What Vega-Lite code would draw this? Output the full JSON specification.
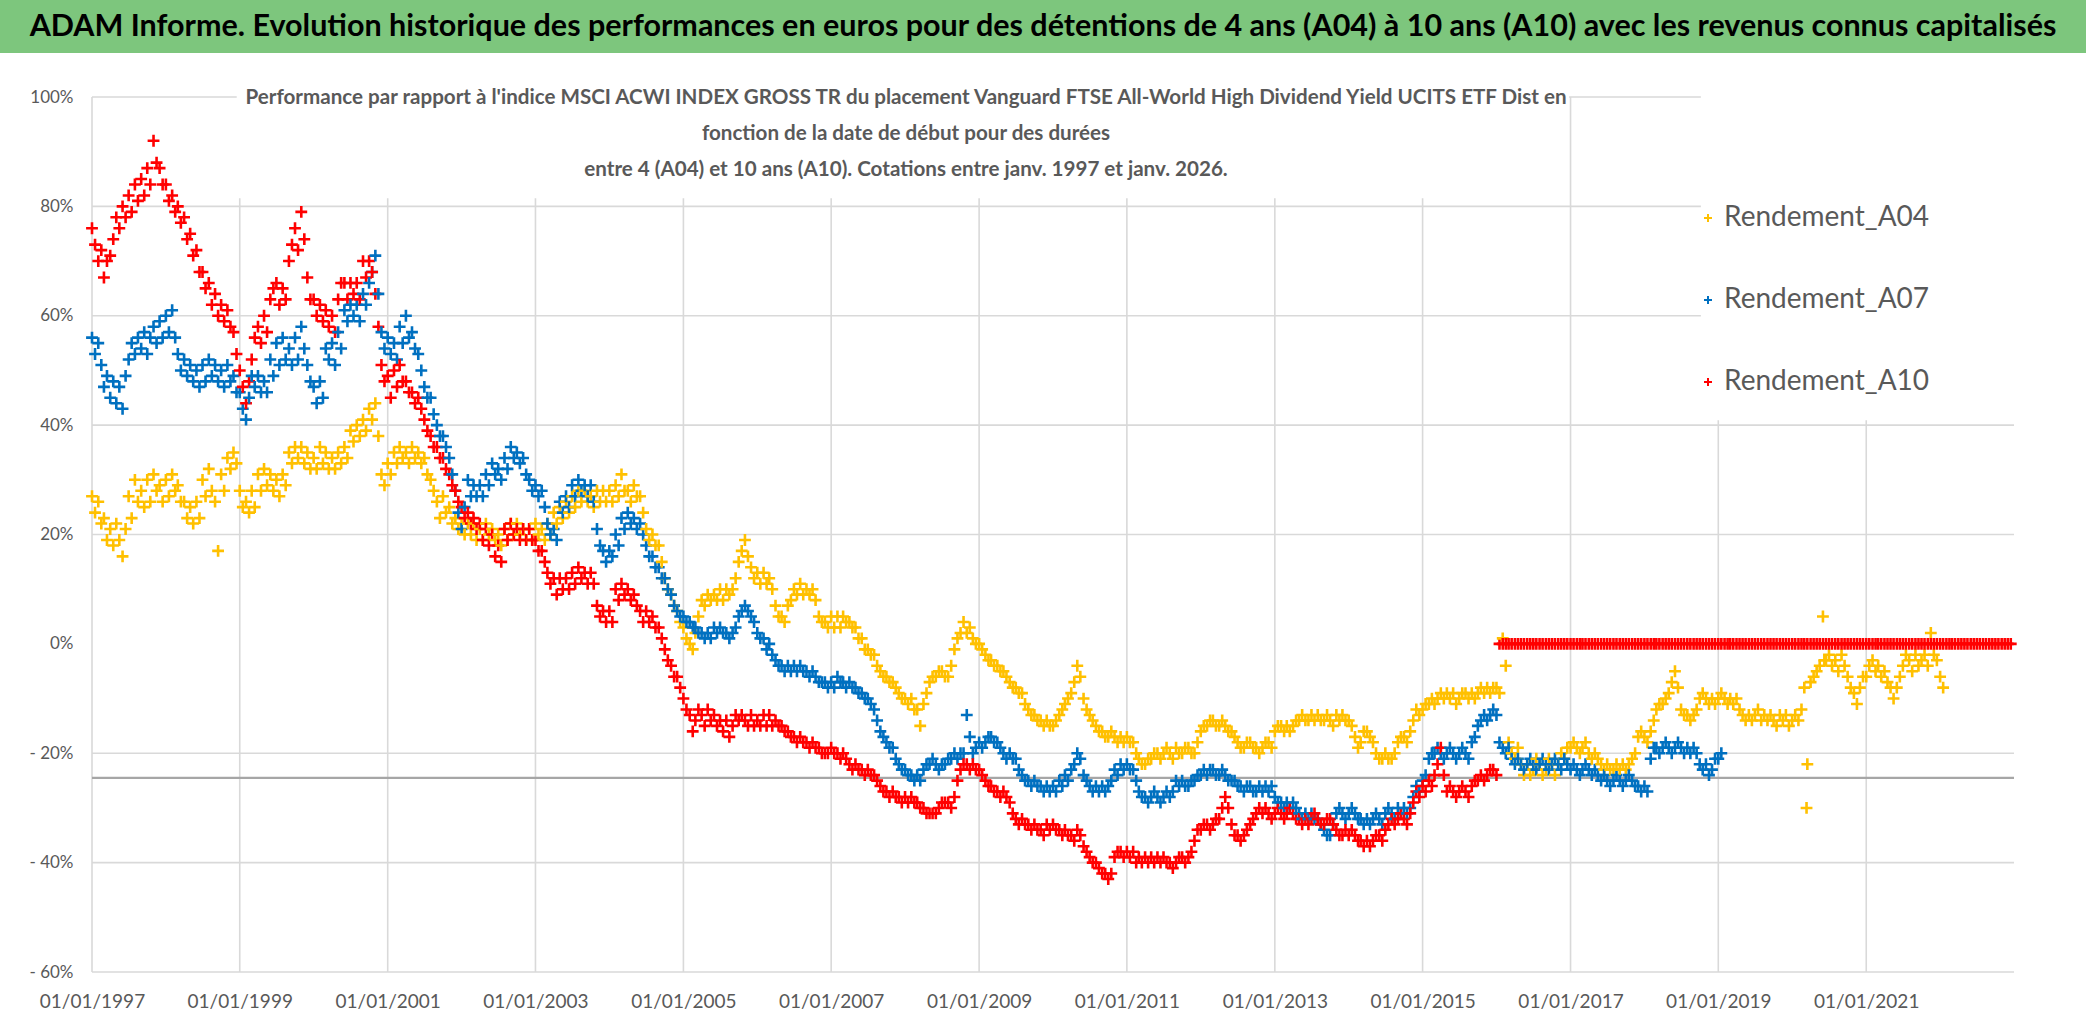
{
  "$schema": "https://vega.github.io/schema/vega-lite/v6.json",
  "background": "white",
  "padding": 0,
  "spacing": 44,
  "bounds": "flush",
  "config": {
    "view": {"stroke": null},
    "font": "Lato",
    "axis": {"grid": false, "domain": false, "ticks": false, "tickSize": 0, "labelFont": "Lato", "labelColor": "#595959", "labelFontSize": 17, "labelFlush": false, "labelOverlap": false, "labelBound": false, "title": null},
    "axisX": {"labelPadding": 20, "labelFontSize": 19},
    "axisY": {"labelPadding": 19, "labelFontSize": 17}
  },
  "vconcat": [
    {
      "width": 2086,
      "height": 53,
      "view": {"fill": "#7DC67D", "stroke": null},
      "data": {"values": [{"t": "ADAM Informe. Evolution historique des performances en euros pour des détentions de 4 ans (A04) à 10 ans (A10) avec les revenus connus capitalisés"}]},
      "mark": {"type": "text", "font": "Lato", "fontSize": 30.5, "fontWeight": "bold", "color": "#000000", "align": "center", "baseline": "middle"},
      "encoding": {"text": {"field": "t", "type": "nominal"}}
    },
    {
      "hconcat": [
        {
          "width": 92,
          "height": 875,
          "data": {"values": [{"t": ""}]},
          "mark": {"type": "text"},
          "encoding": {"text": {"field": "t", "type": "nominal"}}
        },
        {
          "width": 1922,
          "height": 875,
          "title": {
            "text": ["Performance par rapport à l'indice MSCI ACWI INDEX GROSS TR  du placement Vanguard FTSE All-World High Dividend Yield UCITS ETF Dist en", "fonction de la date de début pour des durées", "entre 4 (A04) et 10 ans (A10). Cotations entre janv. 1997 et janv. 2026."],
            "font": "Lato",
            "fontSize": 20.6,
            "fontWeight": "bold",
            "color": "#595959",
            "lineHeight": 36,
            "anchor": "middle",
            "frame": "group",
            "offset": 0,
            "dx": -147,
            "dy": 93
          },
          "layer": [
            {
              "data": {"values": [
                {"y": 100, "x1": "1997-01-01", "x2": "1998-12-17"},
                {"y": 100, "x1": "2016-12-25", "x2": "2018-10-07"},
                {"y": 80, "x1": "1997-01-01", "x2": "2018-10-07"},
                {"y": 60, "x1": "1997-01-01", "x2": "2018-10-07"},
                {"y": 40, "x1": "1997-01-01", "x2": "2023-01-01"},
                {"y": 20, "x1": "1997-01-01", "x2": "2023-01-01"},
                {"y": -20, "x1": "1997-01-01", "x2": "2023-01-01"},
                {"y": -40, "x1": "1997-01-01", "x2": "2023-01-01"},
                {"y": -60, "x1": "1997-01-01", "x2": "2023-01-01"}
              ]},
              "mark": {"type": "rule", "color": "#D9D9D9", "strokeWidth": 1.6},
              "encoding": {
                "x": {"field": "x1", "type": "temporal", "title": null},
                "x2": {"field": "x2"},
                "y": {"field": "y", "type": "quantitative", "title": null}
              }
            },
            {
              "data": {"values": [
                {"x": "1997-01-01", "top": 100, "bot": -60},
                {"x": "1999-01-01", "top": 81.5, "bot": -60},
                {"x": "2001-01-01", "top": 81.5, "bot": -60},
                {"x": "2003-01-01", "top": 81.5, "bot": -60},
                {"x": "2005-01-01", "top": 81.5, "bot": -60},
                {"x": "2007-01-01", "top": 81.5, "bot": -60},
                {"x": "2009-01-01", "top": 81.5, "bot": -60},
                {"x": "2011-01-01", "top": 81.5, "bot": -60},
                {"x": "2013-01-01", "top": 81.5, "bot": -60},
                {"x": "2015-01-01", "top": 81.5, "bot": -60},
                {"x": "2017-01-01", "top": 100, "bot": -60},
                {"x": "2019-01-01", "top": 40.9, "bot": -60},
                {"x": "2021-01-01", "top": 40.9, "bot": -60}
              ]},
              "mark": {"type": "rule", "color": "#D9D9D9", "strokeWidth": 1.6},
              "encoding": {
                "x": {"field": "x", "type": "temporal", "title": null},
                "y": {"field": "top", "type": "quantitative", "title": null},
                "y2": {"field": "bot"}
              }
            },
            {
              "data": {"values": [{"y": -24.5}]},
              "mark": {"type": "rule", "color": "#A6A6A6", "strokeWidth": 2.2},
              "encoding": {
                "y": {"field": "y", "type": "quantitative", "title": null}
              }
            },
            {
              "data": {"values": [
{"d":"1997-01-01","a":27,"b":56,"c":76},
{"d":"1997-01-16","a":24,"b":53,"c":73},
{"d":"1997-02-01","a":26,"b":55,"c":70},
{"d":"1997-02-16","a":22,"b":51,"c":72},
{"d":"1997-03-01","a":23,"b":47,"c":67},
{"d":"1997-03-16","a":19,"b":49,"c":70},
{"d":"1997-04-01","a":21,"b":45,"c":71},
{"d":"1997-04-16","a":18,"b":48,"c":74},
{"d":"1997-05-01","a":22,"b":44,"c":78},
{"d":"1997-05-16","a":19,"b":47,"c":76},
{"d":"1997-06-01","a":16,"b":43,"c":80},
{"d":"1997-06-16","a":21,"b":49,"c":78},
{"d":"1997-07-01","a":27,"b":52,"c":82},
{"d":"1997-07-16","a":23,"b":55,"c":79},
{"d":"1997-08-01","a":30,"b":53,"c":84},
{"d":"1997-08-16","a":26,"b":56,"c":81},
{"d":"1997-09-01","a":28,"b":54,"c":85},
{"d":"1997-09-16","a":25,"b":57,"c":82},
{"d":"1997-10-01","a":30,"b":53,"c":87},
{"d":"1997-10-16","a":26,"b":56,"c":84},
{"d":"1997-11-01","a":31,"b":58,"c":92},
{"d":"1997-11-16","a":28,"b":55,"c":88},
{"d":"1997-12-01","a":29,"b":59,"c":87},
{"d":"1997-12-16","a":26,"b":56,"c":84},
{"d":"1998-01-01","a":30,"b":60,"c":84},
{"d":"1998-01-16","a":27,"b":57,"c":81},
{"d":"1998-02-01","a":31,"b":61,"c":82},
{"d":"1998-02-16","a":28,"b":56,"c":79},
{"d":"1998-03-01","a":29,"b":53,"c":80},
{"d":"1998-03-16","a":26,"b":50,"c":77},
{"d":"1998-04-01","a":26,"b":52,"c":78},
{"d":"1998-04-16","a":23,"b":49,"c":74},
{"d":"1998-05-01","a":25,"b":51,"c":75},
{"d":"1998-05-16","a":22,"b":48,"c":71},
{"d":"1998-06-01","a":26,"b":50,"c":72},
{"d":"1998-06-16","a":23,"b":47,"c":68},
{"d":"1998-07-01","a":30,"b":51,"c":68},
{"d":"1998-07-16","a":27,"b":48,"c":65},
{"d":"1998-08-01","a":32,"b":52,"c":66},
{"d":"1998-08-16","a":28,"b":49,"c":62},
{"d":"1998-09-01","a":26,"b":51,"c":64},
{"d":"1998-09-16","a":17,"b":48,"c":60},
{"d":"1998-10-01","a":31,"b":50,"c":62},
{"d":"1998-10-16","a":28,"b":47,"c":59},
{"d":"1998-11-01","a":34,"b":51,"c":61},
{"d":"1998-11-16","a":32,"b":48,"c":58},
{"d":"1998-12-01","a":35,"b":49,"c":57},
{"d":"1998-12-16","a":33,"b":46,"c":53},
{"d":"1999-01-01","a":28,"b":46,"c":50},
{"d":"1999-01-16","a":25,"b":43,"c":47},
{"d":"1999-02-01","a":26,"b":41,"c":44},
{"d":"1999-02-16","a":24,"b":45,"c":48},
{"d":"1999-03-01","a":28,"b":49,"c":52},
{"d":"1999-03-16","a":25,"b":47,"c":56},
{"d":"1999-04-01","a":31,"b":49,"c":58},
{"d":"1999-04-16","a":28,"b":46,"c":55},
{"d":"1999-05-01","a":32,"b":48,"c":60},
{"d":"1999-05-16","a":29,"b":46,"c":57},
{"d":"1999-06-01","a":31,"b":52,"c":63},
{"d":"1999-06-16","a":28,"b":49,"c":65},
{"d":"1999-07-01","a":30,"b":55,"c":66},
{"d":"1999-07-16","a":27,"b":51,"c":62},
{"d":"1999-08-01","a":31,"b":56,"c":65},
{"d":"1999-08-16","a":29,"b":52,"c":63},
{"d":"1999-09-01","a":35,"b":54,"c":70},
{"d":"1999-09-16","a":33,"b":51,"c":73},
{"d":"1999-10-01","a":36,"b":56,"c":76},
{"d":"1999-10-16","a":34,"b":52,"c":72},
{"d":"1999-11-01","a":36,"b":58,"c":79},
{"d":"1999-11-16","a":33,"b":54,"c":74},
{"d":"1999-12-01","a":35,"b":51,"c":67},
{"d":"1999-12-16","a":32,"b":48,"c":63},
{"d":"2000-01-01","a":34,"b":47,"c":63},
{"d":"2000-01-16","a":32,"b":44,"c":60},
{"d":"2000-02-01","a":36,"b":48,"c":62},
{"d":"2000-02-16","a":33,"b":45,"c":59},
{"d":"2000-03-01","a":35,"b":54,"c":61},
{"d":"2000-03-16","a":32,"b":52,"c":58},
{"d":"2000-04-01","a":34,"b":55,"c":60},
{"d":"2000-04-16","a":32,"b":51,"c":57},
{"d":"2000-05-01","a":35,"b":57,"c":63},
{"d":"2000-05-16","a":33,"b":54,"c":66},
{"d":"2000-06-01","a":36,"b":61,"c":66},
{"d":"2000-06-16","a":34,"b":59,"c":63},
{"d":"2000-07-01","a":39,"b":62,"c":66},
{"d":"2000-07-16","a":37,"b":60,"c":64},
{"d":"2000-08-01","a":40,"b":62,"c":66},
{"d":"2000-08-16","a":38,"b":59,"c":63},
{"d":"2000-09-01","a":41,"b":64,"c":70},
{"d":"2000-09-16","a":39,"b":62,"c":67},
{"d":"2000-10-01","a":43,"b":66,"c":70},
{"d":"2000-10-16","a":41,"b":68,"c":68},
{"d":"2000-11-01","a":44,"b":71,"c":64},
{"d":"2000-11-16","a":38,"b":64,"c":58},
{"d":"2000-12-01","a":31,"b":57,"c":51},
{"d":"2000-12-16","a":29,"b":54,"c":48},
{"d":"2001-01-01","a":33,"b":56,"c":49},
{"d":"2001-01-16","a":31,"b":53,"c":45},
{"d":"2001-02-01","a":35,"b":55,"c":50},
{"d":"2001-02-16","a":33,"b":52,"c":47},
{"d":"2001-03-01","a":36,"b":58,"c":51},
{"d":"2001-03-16","a":34,"b":55,"c":48},
{"d":"2001-04-01","a":35,"b":60,"c":48},
{"d":"2001-04-16","a":33,"b":56,"c":46},
{"d":"2001-05-01","a":36,"b":57,"c":46},
{"d":"2001-05-16","a":34,"b":54,"c":44},
{"d":"2001-06-01","a":35,"b":53,"c":45},
{"d":"2001-06-16","a":33,"b":50,"c":43},
{"d":"2001-07-01","a":34,"b":47,"c":41},
{"d":"2001-07-16","a":31,"b":45,"c":39},
{"d":"2001-08-01","a":30,"b":45,"c":38},
{"d":"2001-08-16","a":28,"b":42,"c":36},
{"d":"2001-09-01","a":26,"b":40,"c":36},
{"d":"2001-09-16","a":23,"b":38,"c":34},
{"d":"2001-10-01","a":27,"b":38,"c":34},
{"d":"2001-10-16","a":24,"b":36,"c":32},
{"d":"2001-11-01","a":25,"b":34,"c":31},
{"d":"2001-11-16","a":22,"b":31,"c":29},
{"d":"2001-12-01","a":23,"b":28,"c":28},
{"d":"2001-12-16","a":21,"b":24,"c":26},
{"d":"2002-01-01","a":22,"b":21,"c":25},
{"d":"2002-01-16","a":20,"b":25,"c":23},
{"d":"2002-02-01","a":22,"b":30,"c":24},
{"d":"2002-02-16","a":20,"b":27,"c":22},
{"d":"2002-03-01","a":22,"b":29,"c":23},
{"d":"2002-03-16","a":19,"b":27,"c":21},
{"d":"2002-04-01","a":21,"b":29,"c":22},
{"d":"2002-04-16","a":19,"b":27,"c":19},
{"d":"2002-05-01","a":22,"b":31,"c":21},
{"d":"2002-05-16","a":20,"b":29,"c":18},
{"d":"2002-06-01","a":21,"b":33,"c":20},
{"d":"2002-06-16","a":19,"b":31,"c":16},
{"d":"2002-07-01","a":20,"b":32,"c":18},
{"d":"2002-07-16","a":18,"b":30,"c":15},
{"d":"2002-08-01","a":21,"b":34,"c":21},
{"d":"2002-08-16","a":19,"b":32,"c":19},
{"d":"2002-09-01","a":22,"b":36,"c":22},
{"d":"2002-09-16","a":20,"b":34,"c":20},
{"d":"2002-10-01","a":22,"b":35,"c":21},
{"d":"2002-10-16","a":20,"b":33,"c":19},
{"d":"2002-11-01","a":21,"b":34,"c":21},
{"d":"2002-11-16","a":19,"b":31,"c":19},
{"d":"2002-12-01","a":21,"b":30,"c":21},
{"d":"2002-12-16","a":19,"b":28,"c":19},
{"d":"2003-01-01","a":22,"b":29,"c":19},
{"d":"2003-01-16","a":20,"b":27,"c":17},
{"d":"2003-02-01","a":21,"b":28,"c":17},
{"d":"2003-02-16","a":19,"b":25,"c":15},
{"d":"2003-03-01","a":22,"b":22,"c":13},
{"d":"2003-03-16","a":20,"b":20,"c":11},
{"d":"2003-04-01","a":24,"b":21,"c":12},
{"d":"2003-04-16","a":22,"b":19,"c":9},
{"d":"2003-05-01","a":25,"b":26,"c":12},
{"d":"2003-05-16","a":23,"b":24,"c":10},
{"d":"2003-06-01","a":26,"b":27,"c":12},
{"d":"2003-06-16","a":24,"b":25,"c":10},
{"d":"2003-07-01","a":27,"b":29,"c":13},
{"d":"2003-07-16","a":25,"b":27,"c":11},
{"d":"2003-08-01","a":28,"b":30,"c":14},
{"d":"2003-08-16","a":26,"b":28,"c":12},
{"d":"2003-09-01","a":28,"b":29,"c":13},
{"d":"2003-09-16","a":26,"b":27,"c":11},
{"d":"2003-10-01","a":27,"b":29,"c":13},
{"d":"2003-10-16","a":25,"b":26,"c":11},
{"d":"2003-11-01","a":28,"b":21,"c":7},
{"d":"2003-11-16","a":26,"b":18,"c":5},
{"d":"2003-12-01","a":28,"b":17,"c":6},
{"d":"2003-12-16","a":26,"b":15,"c":4},
{"d":"2004-01-01","a":28,"b":17,"c":6},
{"d":"2004-01-16","a":26,"b":16,"c":4},
{"d":"2004-02-01","a":29,"b":20,"c":10},
{"d":"2004-02-16","a":27,"b":18,"c":8},
{"d":"2004-03-01","a":31,"b":23,"c":11},
{"d":"2004-03-16","a":28,"b":21,"c":9},
{"d":"2004-04-01","a":28,"b":24,"c":10},
{"d":"2004-04-16","a":26,"b":22,"c":8},
{"d":"2004-05-01","a":29,"b":23,"c":9},
{"d":"2004-05-16","a":27,"b":21,"c":7},
{"d":"2004-06-01","a":27,"b":22,"c":6},
{"d":"2004-06-16","a":24,"b":20,"c":4},
{"d":"2004-07-01","a":21,"b":18,"c":6},
{"d":"2004-07-16","a":19,"b":16,"c":4},
{"d":"2004-08-01","a":20,"b":16,"c":5},
{"d":"2004-08-16","a":18,"b":14,"c":3},
{"d":"2004-09-01","a":18,"b":14,"c":3},
{"d":"2004-09-16","a":15,"b":12,"c":1},
{"d":"2004-10-01","a":12,"b":12,"c":-1},
{"d":"2004-10-16","a":10,"b":10,"c":-3},
{"d":"2004-11-01","a":9,"b":9,"c":-4},
{"d":"2004-11-16","a":7,"b":7,"c":-6},
{"d":"2004-12-01","a":6,"b":6,"c":-6},
{"d":"2004-12-16","a":4,"b":5,"c":-8},
{"d":"2005-01-01","a":3,"b":5,"c":-10},
{"d":"2005-01-16","a":1,"b":4,"c":-12},
{"d":"2005-02-01","a":0,"b":4,"c":-13},
{"d":"2005-02-16","a":-1,"b":3,"c":-16},
{"d":"2005-03-01","a":2,"b":3,"c":-14},
{"d":"2005-03-16","a":5,"b":2,"c":-12},
{"d":"2005-04-01","a":8,"b":2,"c":-13},
{"d":"2005-04-16","a":7,"b":1,"c":-15},
{"d":"2005-05-01","a":9,"b":2,"c":-12},
{"d":"2005-05-16","a":8,"b":1,"c":-14},
{"d":"2005-06-01","a":9,"b":3,"c":-13},
{"d":"2005-06-16","a":8,"b":2,"c":-15},
{"d":"2005-07-01","a":10,"b":3,"c":-14},
{"d":"2005-07-16","a":8,"b":2,"c":-16},
{"d":"2005-08-01","a":10,"b":2,"c":-14},
{"d":"2005-08-16","a":9,"b":1,"c":-17},
{"d":"2005-09-01","a":10,"b":2,"c":-15},
{"d":"2005-09-16","a":12,"b":3,"c":-13},
{"d":"2005-10-01","a":15,"b":5,"c":-14},
{"d":"2005-10-16","a":17,"b":6,"c":-13},
{"d":"2005-11-01","a":19,"b":7,"c":-14},
{"d":"2005-11-16","a":16,"b":6,"c":-15},
{"d":"2005-12-01","a":14,"b":5,"c":-13},
{"d":"2005-12-16","a":12,"b":4,"c":-15},
{"d":"2006-01-01","a":13,"b":2,"c":-14},
{"d":"2006-01-16","a":11,"b":1,"c":-15},
{"d":"2006-02-01","a":13,"b":1,"c":-13},
{"d":"2006-02-16","a":11,"b":-1,"c":-15},
{"d":"2006-03-01","a":12,"b":0,"c":-13},
{"d":"2006-03-16","a":10,"b":-2,"c":-15},
{"d":"2006-04-01","a":7,"b":-3,"c":-14},
{"d":"2006-04-16","a":5,"b":-4,"c":-15},
{"d":"2006-05-01","a":5,"b":-4,"c":-15},
{"d":"2006-05-16","a":4,"b":-5,"c":-16},
{"d":"2006-06-01","a":7,"b":-4,"c":-16},
{"d":"2006-06-16","a":8,"b":-5,"c":-17},
{"d":"2006-07-01","a":10,"b":-4,"c":-17},
{"d":"2006-07-16","a":9,"b":-5,"c":-18},
{"d":"2006-08-01","a":11,"b":-4,"c":-17},
{"d":"2006-08-16","a":9,"b":-5,"c":-18},
{"d":"2006-09-01","a":10,"b":-5,"c":-18},
{"d":"2006-09-16","a":9,"b":-6,"c":-19},
{"d":"2006-10-01","a":10,"b":-5,"c":-18},
{"d":"2006-10-16","a":8,"b":-6,"c":-19},
{"d":"2006-11-01","a":5,"b":-7,"c":-19},
{"d":"2006-11-16","a":4,"b":-7,"c":-20},
{"d":"2006-12-01","a":4,"b":-7,"c":-20},
{"d":"2006-12-16","a":3,"b":-8,"c":-20},
{"d":"2007-01-01","a":5,"b":-7,"c":-19},
{"d":"2007-01-16","a":3,"b":-8,"c":-20},
{"d":"2007-02-01","a":5,"b":-6,"c":-20},
{"d":"2007-02-16","a":3,"b":-7,"c":-21},
{"d":"2007-03-01","a":5,"b":-7,"c":-20},
{"d":"2007-03-16","a":4,"b":-8,"c":-21},
{"d":"2007-04-01","a":4,"b":-7,"c":-22},
{"d":"2007-04-16","a":3,"b":-8,"c":-23},
{"d":"2007-05-01","a":3,"b":-8,"c":-22},
{"d":"2007-05-16","a":1,"b":-9,"c":-23},
{"d":"2007-06-01","a":1,"b":-9,"c":-23},
{"d":"2007-06-16","a":-1,"b":-10,"c":-24},
{"d":"2007-07-01","a":-1,"b":-10,"c":-23},
{"d":"2007-07-16","a":-2,"b":-11,"c":-24},
{"d":"2007-08-01","a":-2,"b":-12,"c":-24},
{"d":"2007-08-16","a":-4,"b":-14,"c":-25},
{"d":"2007-09-01","a":-5,"b":-16,"c":-26},
{"d":"2007-09-16","a":-6,"b":-17,"c":-27},
{"d":"2007-10-01","a":-6,"b":-18,"c":-27},
{"d":"2007-10-16","a":-7,"b":-19,"c":-28},
{"d":"2007-11-01","a":-7,"b":-19,"c":-27},
{"d":"2007-11-16","a":-8,"b":-21,"c":-28},
{"d":"2007-12-01","a":-9,"b":-22,"c":-28},
{"d":"2007-12-16","a":-10,"b":-23,"c":-29},
{"d":"2008-01-01","a":-10,"b":-23,"c":-28},
{"d":"2008-01-16","a":-11,"b":-24,"c":-29},
{"d":"2008-02-01","a":-10,"b":-24,"c":-28},
{"d":"2008-02-16","a":-12,"b":-25,"c":-29},
{"d":"2008-03-01","a":-12,"b":-24,"c":-29},
{"d":"2008-03-16","a":-15,"b":-25,"c":-30},
{"d":"2008-04-01","a":-11,"b":-23,"c":-30},
{"d":"2008-04-16","a":-9,"b":-22,"c":-31},
{"d":"2008-05-01","a":-7,"b":-22,"c":-31},
{"d":"2008-05-16","a":-6,"b":-21,"c":-31},
{"d":"2008-06-01","a":-6,"b":-22,"c":-31},
{"d":"2008-06-16","a":-5,"b":-23,"c":-30},
{"d":"2008-07-01","a":-5,"b":-22,"c":-29},
{"d":"2008-07-16","a":-6,"b":-22,"c":-29},
{"d":"2008-08-01","a":-6,"b":-21,"c":-29},
{"d":"2008-08-16","a":-4,"b":-21,"c":-30},
{"d":"2008-09-01","a":-1,"b":-20,"c":-28},
{"d":"2008-09-16","a":1,"b":-21,"c":-25},
{"d":"2008-10-01","a":2,"b":-20,"c":-23},
{"d":"2008-10-16","a":4,"b":-20,"c":-22},
{"d":"2008-11-01","a":2,"b":-13,"c":-22},
{"d":"2008-11-16","a":3,"b":-17,"c":-23},
{"d":"2008-12-01","a":1,"b":-20,"c":-22},
{"d":"2008-12-16","a":0,"b":-19,"c":-23},
{"d":"2009-01-01","a":0,"b":-18,"c":-23},
{"d":"2009-01-16","a":-1,"b":-19,"c":-24},
{"d":"2009-02-01","a":-2,"b":-18,"c":-25},
{"d":"2009-02-16","a":-3,"b":-17,"c":-26},
{"d":"2009-03-01","a":-3,"b":-17,"c":-26},
{"d":"2009-03-16","a":-4,"b":-18,"c":-27},
{"d":"2009-04-01","a":-4,"b":-18,"c":-27},
{"d":"2009-04-16","a":-5,"b":-19,"c":-28},
{"d":"2009-05-01","a":-5,"b":-20,"c":-27},
{"d":"2009-05-16","a":-6,"b":-21,"c":-28},
{"d":"2009-06-01","a":-7,"b":-20,"c":-29},
{"d":"2009-06-16","a":-8,"b":-21,"c":-31},
{"d":"2009-07-01","a":-8,"b":-21,"c":-32},
{"d":"2009-07-16","a":-9,"b":-23,"c":-33},
{"d":"2009-08-01","a":-9,"b":-24,"c":-32},
{"d":"2009-08-16","a":-11,"b":-25,"c":-33},
{"d":"2009-09-01","a":-12,"b":-25,"c":-33},
{"d":"2009-09-16","a":-13,"b":-26,"c":-34},
{"d":"2009-10-01","a":-13,"b":-25,"c":-33},
{"d":"2009-10-16","a":-14,"b":-26,"c":-34},
{"d":"2009-11-01","a":-14,"b":-26,"c":-34},
{"d":"2009-11-16","a":-15,"b":-27,"c":-35},
{"d":"2009-12-01","a":-14,"b":-26,"c":-33},
{"d":"2009-12-16","a":-15,"b":-27,"c":-34},
{"d":"2010-01-01","a":-15,"b":-26,"c":-33},
{"d":"2010-01-16","a":-14,"b":-27,"c":-34},
{"d":"2010-02-01","a":-13,"b":-25,"c":-34},
{"d":"2010-02-16","a":-12,"b":-26,"c":-35},
{"d":"2010-03-01","a":-11,"b":-24,"c":-34},
{"d":"2010-03-16","a":-10,"b":-25,"c":-35},
{"d":"2010-04-01","a":-9,"b":-23,"c":-35},
{"d":"2010-04-16","a":-7,"b":-22,"c":-36},
{"d":"2010-05-01","a":-4,"b":-20,"c":-34},
{"d":"2010-05-16","a":-6,"b":-21,"c":-35},
{"d":"2010-06-01","a":-10,"b":-24,"c":-37},
{"d":"2010-06-16","a":-12,"b":-25,"c":-38},
{"d":"2010-07-01","a":-13,"b":-26,"c":-39},
{"d":"2010-07-16","a":-14,"b":-27,"c":-40},
{"d":"2010-08-01","a":-15,"b":-26,"c":-40},
{"d":"2010-08-16","a":-16,"b":-27,"c":-41},
{"d":"2010-09-01","a":-16,"b":-26,"c":-42},
{"d":"2010-09-16","a":-17,"b":-27,"c":-42},
{"d":"2010-10-01","a":-17,"b":-26,"c":-43},
{"d":"2010-10-16","a":-16,"b":-25,"c":-42},
{"d":"2010-11-01","a":-17,"b":-23,"c":-39},
{"d":"2010-11-16","a":-18,"b":-24,"c":-38},
{"d":"2010-12-01","a":-17,"b":-22,"c":-38},
{"d":"2010-12-16","a":-18,"b":-23,"c":-39},
{"d":"2011-01-01","a":-17,"b":-22,"c":-38},
{"d":"2011-01-16","a":-18,"b":-23,"c":-39},
{"d":"2011-02-01","a":-18,"b":-23,"c":-38},
{"d":"2011-02-16","a":-20,"b":-25,"c":-40},
{"d":"2011-03-01","a":-21,"b":-27,"c":-39},
{"d":"2011-03-16","a":-22,"b":-28,"c":-40},
{"d":"2011-04-01","a":-22,"b":-28,"c":-39},
{"d":"2011-04-16","a":-21,"b":-29,"c":-40},
{"d":"2011-05-01","a":-21,"b":-28,"c":-39},
{"d":"2011-05-16","a":-20,"b":-27,"c":-40},
{"d":"2011-06-01","a":-20,"b":-28,"c":-39},
{"d":"2011-06-16","a":-21,"b":-29,"c":-40},
{"d":"2011-07-01","a":-20,"b":-28,"c":-39},
{"d":"2011-07-16","a":-19,"b":-27,"c":-40},
{"d":"2011-08-01","a":-20,"b":-28,"c":-40},
{"d":"2011-08-16","a":-21,"b":-27,"c":-41},
{"d":"2011-09-01","a":-19,"b":-25,"c":-40},
{"d":"2011-09-16","a":-20,"b":-26,"c":-39},
{"d":"2011-10-01","a":-20,"b":-25,"c":-39},
{"d":"2011-10-16","a":-19,"b":-26,"c":-40},
{"d":"2011-11-01","a":-19,"b":-26,"c":-39},
{"d":"2011-11-16","a":-20,"b":-25,"c":-38},
{"d":"2011-12-01","a":-20,"b":-25,"c":-36},
{"d":"2011-12-16","a":-18,"b":-24,"c":-34},
{"d":"2012-01-01","a":-16,"b":-24,"c":-34},
{"d":"2012-01-16","a":-15,"b":-23,"c":-33},
{"d":"2012-02-01","a":-15,"b":-24,"c":-33},
{"d":"2012-02-16","a":-14,"b":-23,"c":-34},
{"d":"2012-03-01","a":-14,"b":-23,"c":-33},
{"d":"2012-03-16","a":-15,"b":-24,"c":-32},
{"d":"2012-04-01","a":-15,"b":-24,"c":-32},
{"d":"2012-04-16","a":-14,"b":-23,"c":-30},
{"d":"2012-05-01","a":-15,"b":-24,"c":-28},
{"d":"2012-05-16","a":-16,"b":-25,"c":-30},
{"d":"2012-06-01","a":-16,"b":-25,"c":-33},
{"d":"2012-06-16","a":-17,"b":-25,"c":-35},
{"d":"2012-07-01","a":-18,"b":-26,"c":-35},
{"d":"2012-07-16","a":-19,"b":-26,"c":-36},
{"d":"2012-08-01","a":-19,"b":-27,"c":-35},
{"d":"2012-08-16","a":-18,"b":-26,"c":-34},
{"d":"2012-09-01","a":-18,"b":-26,"c":-33},
{"d":"2012-09-16","a":-19,"b":-27,"c":-32},
{"d":"2012-10-01","a":-19,"b":-27,"c":-31},
{"d":"2012-10-16","a":-20,"b":-26,"c":-30},
{"d":"2012-11-01","a":-19,"b":-27,"c":-31},
{"d":"2012-11-16","a":-18,"b":-26,"c":-30},
{"d":"2012-12-01","a":-18,"b":-27,"c":-31},
{"d":"2012-12-16","a":-19,"b":-26,"c":-32},
{"d":"2013-01-01","a":-16,"b":-28,"c":-31},
{"d":"2013-01-16","a":-15,"b":-29,"c":-30},
{"d":"2013-02-01","a":-15,"b":-29,"c":-31},
{"d":"2013-02-16","a":-16,"b":-30,"c":-32},
{"d":"2013-03-01","a":-15,"b":-29,"c":-31},
{"d":"2013-03-16","a":-16,"b":-30,"c":-30},
{"d":"2013-04-01","a":-15,"b":-29,"c":-31},
{"d":"2013-04-16","a":-14,"b":-30,"c":-32},
{"d":"2013-05-01","a":-14,"b":-31,"c":-32},
{"d":"2013-05-16","a":-13,"b":-32,"c":-33},
{"d":"2013-06-01","a":-14,"b":-31,"c":-32},
{"d":"2013-06-16","a":-14,"b":-32,"c":-33},
{"d":"2013-07-01","a":-13,"b":-31,"c":-32},
{"d":"2013-07-16","a":-14,"b":-32,"c":-31},
{"d":"2013-08-01","a":-13,"b":-32,"c":-32},
{"d":"2013-08-16","a":-14,"b":-33,"c":-33},
{"d":"2013-09-01","a":-14,"b":-34,"c":-33},
{"d":"2013-09-16","a":-13,"b":-35,"c":-32},
{"d":"2013-10-01","a":-14,"b":-35,"c":-32},
{"d":"2013-10-16","a":-15,"b":-33,"c":-33},
{"d":"2013-11-01","a":-13,"b":-31,"c":-34},
{"d":"2013-11-16","a":-14,"b":-30,"c":-35},
{"d":"2013-12-01","a":-13,"b":-31,"c":-35},
{"d":"2013-12-16","a":-14,"b":-32,"c":-34},
{"d":"2014-01-01","a":-14,"b":-31,"c":-35},
{"d":"2014-01-16","a":-15,"b":-30,"c":-34},
{"d":"2014-02-01","a":-17,"b":-31,"c":-35},
{"d":"2014-02-16","a":-19,"b":-32,"c":-36},
{"d":"2014-03-01","a":-18,"b":-32,"c":-36},
{"d":"2014-03-16","a":-16,"b":-33,"c":-37},
{"d":"2014-04-01","a":-16,"b":-32,"c":-36},
{"d":"2014-04-16","a":-17,"b":-33,"c":-37},
{"d":"2014-05-01","a":-18,"b":-32,"c":-36},
{"d":"2014-05-16","a":-20,"b":-31,"c":-35},
{"d":"2014-06-01","a":-21,"b":-32,"c":-35},
{"d":"2014-06-16","a":-21,"b":-33,"c":-36},
{"d":"2014-07-01","a":-20,"b":-31,"c":-34},
{"d":"2014-07-16","a":-21,"b":-30,"c":-33},
{"d":"2014-08-01","a":-21,"b":-31,"c":-32},
{"d":"2014-08-16","a":-20,"b":-32,"c":-33},
{"d":"2014-09-01","a":-18,"b":-30,"c":-32},
{"d":"2014-09-16","a":-17,"b":-31,"c":-31},
{"d":"2014-10-01","a":-17,"b":-30,"c":-32},
{"d":"2014-10-16","a":-18,"b":-31,"c":-33},
{"d":"2014-11-01","a":-16,"b":-30,"c":-31},
{"d":"2014-11-16","a":-14,"b":-28,"c":-29},
{"d":"2014-12-01","a":-12,"b":-26,"c":-27},
{"d":"2014-12-16","a":-13,"b":-27,"c":-28},
{"d":"2015-01-01","a":-12,"b":-25,"c":-26},
{"d":"2015-01-16","a":-11,"b":-24,"c":-27},
{"d":"2015-02-01","a":-11,"b":-21,"c":-25},
{"d":"2015-02-16","a":-10,"b":-20,"c":-26},
{"d":"2015-03-01","a":-11,"b":-20,"c":-24},
{"d":"2015-03-16","a":-10,"b":-19,"c":-22},
{"d":"2015-04-01","a":-9,"b":-20,"c":-19},
{"d":"2015-04-16","a":-10,"b":-21,"c":-24},
{"d":"2015-05-01","a":-9,"b":-20,"c":-27},
{"d":"2015-05-16","a":-10,"b":-19,"c":-26},
{"d":"2015-06-01","a":-9,"b":-20,"c":-27},
{"d":"2015-06-16","a":-11,"b":-21,"c":-28},
{"d":"2015-07-01","a":-10,"b":-20,"c":-27},
{"d":"2015-07-16","a":-9,"b":-19,"c":-26},
{"d":"2015-08-01","a":-9,"b":-20,"c":-27},
{"d":"2015-08-16","a":-10,"b":-21,"c":-28},
{"d":"2015-09-01","a":-9,"b":-18,"c":-26},
{"d":"2015-09-16","a":-10,"b":-17,"c":-25},
{"d":"2015-10-01","a":-9,"b":-15,"c":-25},
{"d":"2015-10-16","a":-8,"b":-14,"c":-24},
{"d":"2015-11-01","a":-9,"b":-13,"c":-25},
{"d":"2015-11-16","a":-8,"b":-14,"c":-24},
{"d":"2015-12-01","a":-9,"b":-13,"c":-23},
{"d":"2015-12-16","a":-8,"b":-12,"c":-23},
{"d":"2016-01-01","a":-8,"b":-13,"c":-24},
{"d":"2016-01-16","a":-9,"b":-18,"c":0},
{"d":"2016-02-01","a":1,"b":-19,"c":0},
{"d":"2016-02-16","a":-4,"b":-20,"c":0},
{"d":"2016-03-01","a":-18,"b":-19,"c":0},
{"d":"2016-03-16","a":-20,"b":-21,"c":0},
{"d":"2016-04-01","a":-21,"b":-22,"c":0},
{"d":"2016-04-16","a":-19,"b":-21,"c":0},
{"d":"2016-05-01","a":-22,"b":-22,"c":0},
{"d":"2016-05-16","a":-24,"b":-23,"c":0},
{"d":"2016-06-01","a":-22,"b":-22,"c":0},
{"d":"2016-06-16","a":-24,"b":-21,"c":0},
{"d":"2016-07-01","a":-23,"b":-22,"c":0},
{"d":"2016-07-16","a":-21,"b":-23,"c":0},
{"d":"2016-08-01","a":-22,"b":-22,"c":0},
{"d":"2016-08-16","a":-24,"b":-21,"c":0},
{"d":"2016-09-01","a":-23,"b":-22,"c":0},
{"d":"2016-09-16","a":-21,"b":-23,"c":0},
{"d":"2016-10-01","a":-22,"b":-22,"c":0},
{"d":"2016-10-16","a":-24,"b":-21,"c":0},
{"d":"2016-11-01","a":-22,"b":-22,"c":0},
{"d":"2016-11-16","a":-20,"b":-23,"c":0},
{"d":"2016-12-01","a":-21,"b":-21,"c":0},
{"d":"2016-12-16","a":-19,"b":-22,"c":0},
{"d":"2017-01-01","a":-19,"b":-23,"c":0},
{"d":"2017-01-16","a":-18,"b":-22,"c":0},
{"d":"2017-02-01","a":-19,"b":-23,"c":0},
{"d":"2017-02-16","a":-20,"b":-24,"c":0},
{"d":"2017-03-01","a":-19,"b":-23,"c":0},
{"d":"2017-03-16","a":-18,"b":-22,"c":0},
{"d":"2017-04-01","a":-20,"b":-23,"c":0},
{"d":"2017-04-16","a":-21,"b":-24,"c":0},
{"d":"2017-05-01","a":-20,"b":-23,"c":0},
{"d":"2017-05-16","a":-21,"b":-24,"c":0},
{"d":"2017-06-01","a":-22,"b":-25,"c":0},
{"d":"2017-06-16","a":-23,"b":-24,"c":0},
{"d":"2017-07-01","a":-22,"b":-25,"c":0},
{"d":"2017-07-16","a":-23,"b":-26,"c":0},
{"d":"2017-08-01","a":-23,"b":-25,"c":0},
{"d":"2017-08-16","a":-22,"b":-24,"c":0},
{"d":"2017-09-01","a":-23,"b":-25,"c":0},
{"d":"2017-09-16","a":-22,"b":-26,"c":0},
{"d":"2017-10-01","a":-23,"b":-25,"c":0},
{"d":"2017-10-16","a":-22,"b":-24,"c":0},
{"d":"2017-11-01","a":-21,"b":-25,"c":0},
{"d":"2017-11-16","a":-20,"b":-26,"c":0},
{"d":"2017-12-01","a":-17,"b":-26,"c":0},
{"d":"2017-12-16","a":-16,"b":-27,"c":0},
{"d":"2018-01-01","a":-17,"b":-26,"c":0},
{"d":"2018-01-16","a":-18,"b":-27,"c":0},
{"d":"2018-02-01","a":-16,"b":-21,"c":0},
{"d":"2018-02-16","a":-14,"b":-19,"c":0},
{"d":"2018-03-01","a":-12,"b":-19,"c":0},
{"d":"2018-03-16","a":-11,"b":-20,"c":0},
{"d":"2018-04-01","a":-11,"b":-19,"c":0},
{"d":"2018-04-16","a":-10,"b":-18,"c":0},
{"d":"2018-05-01","a":-9,"b":-19,"c":0},
{"d":"2018-05-16","a":-7,"b":-20,"c":0},
{"d":"2018-06-01","a":-5,"b":-19,"c":0},
{"d":"2018-06-16","a":-8,"b":-18,"c":0},
{"d":"2018-07-01","a":-12,"b":-19,"c":0},
{"d":"2018-07-16","a":-13,"b":-20,"c":0},
{"d":"2018-08-01","a":-13,"b":-19,"c":0},
{"d":"2018-08-16","a":-14,"b":-20,"c":0},
{"d":"2018-09-01","a":-13,"b":-19,"c":0},
{"d":"2018-09-16","a":-12,"b":-20,"c":0},
{"d":"2018-10-01","a":-10,"b":-22,"c":0},
{"d":"2018-10-16","a":-9,"b":-23,"c":0},
{"d":"2018-11-01","a":-10,"b":-22,"c":0},
{"d":"2018-11-16","a":-11,"b":-24,"c":0},
{"d":"2018-12-01","a":-10,"b":-23,"c":0},
{"d":"2018-12-16","a":-11,"b":-21,"c":0},
{"d":"2019-01-01","a":-10,"b":-21,"c":0},
{"d":"2019-01-16","a":-9,"b":-20,"c":0},
{"d":"2019-02-01","a":-10,"c":0},
{"d":"2019-02-16","a":-11,"c":0},
{"d":"2019-03-01","a":-10,"c":0},
{"d":"2019-03-16","a":-11,"c":0},
{"d":"2019-04-01","a":-10,"c":0},
{"d":"2019-04-16","a":-12,"c":0},
{"d":"2019-05-01","a":-13,"c":0},
{"d":"2019-05-16","a":-14,"c":0},
{"d":"2019-06-01","a":-13,"c":0},
{"d":"2019-06-16","a":-14,"c":0},
{"d":"2019-07-01","a":-13,"c":0},
{"d":"2019-07-16","a":-12,"c":0},
{"d":"2019-08-01","a":-14,"c":0},
{"d":"2019-08-16","a":-13,"c":0},
{"d":"2019-09-01","a":-14,"c":0},
{"d":"2019-09-16","a":-13,"c":0},
{"d":"2019-10-01","a":-14,"c":0},
{"d":"2019-10-16","a":-15,"c":0},
{"d":"2019-11-01","a":-13,"c":0},
{"d":"2019-11-16","a":-14,"c":0},
{"d":"2019-12-01","a":-13,"c":0},
{"d":"2019-12-16","a":-15,"c":0},
{"d":"2020-01-01","a":-14,"c":0},
{"d":"2020-01-16","a":-13,"c":0},
{"d":"2020-02-01","a":-14,"c":0},
{"d":"2020-02-16","a":-12,"c":0},
{"d":"2020-03-01","a":-8,"c":0},
{"d":"2020-03-12","a":-30},
{"d":"2020-03-16","a":-22,"c":0},
{"d":"2020-04-01","a":-7,"c":0},
{"d":"2020-04-16","a":-6,"c":0},
{"d":"2020-05-01","a":-5,"c":0},
{"d":"2020-05-16","a":-4,"c":0},
{"d":"2020-06-01","a":5,"c":0},
{"d":"2020-06-08","a":-3},
{"d":"2020-06-16","a":-3,"c":0},
{"d":"2020-07-01","a":-2,"c":0},
{"d":"2020-07-16","a":-4,"c":0},
{"d":"2020-08-01","a":-3,"c":0},
{"d":"2020-08-16","a":-5,"c":0},
{"d":"2020-09-01","a":-2,"c":0},
{"d":"2020-09-16","a":-4,"c":0},
{"d":"2020-10-01","a":-6,"c":0},
{"d":"2020-10-16","a":-8,"c":0},
{"d":"2020-11-01","a":-9,"c":0},
{"d":"2020-11-16","a":-11,"c":0},
{"d":"2020-12-01","a":-8,"c":0},
{"d":"2020-12-16","a":-6,"c":0},
{"d":"2021-01-01","a":-6,"c":0},
{"d":"2021-01-16","a":-4,"c":0},
{"d":"2021-02-01","a":-3,"c":0},
{"d":"2021-02-16","a":-5,"c":0},
{"d":"2021-03-01","a":-4,"c":0},
{"d":"2021-03-16","a":-6,"c":0},
{"d":"2021-04-01","a":-5,"c":0},
{"d":"2021-04-16","a":-7,"c":0},
{"d":"2021-05-01","a":-8,"c":0},
{"d":"2021-05-16","a":-10,"c":0},
{"d":"2021-06-01","a":-8,"c":0},
{"d":"2021-06-16","a":-6,"c":0},
{"d":"2021-07-01","a":-4,"c":0},
{"d":"2021-07-16","a":-2,"c":0},
{"d":"2021-08-01","a":-3,"c":0},
{"d":"2021-08-16","a":-5,"c":0},
{"d":"2021-09-01","a":-2,"c":0},
{"d":"2021-09-16","a":-4,"c":0},
{"d":"2021-10-01","a":-3,"c":0},
{"d":"2021-10-16","a":-2,"c":0},
{"d":"2021-11-01","a":-4,"c":0},
{"d":"2021-11-16","a":2,"c":0},
{"d":"2021-12-01","a":-2,"c":0},
{"d":"2021-12-16","a":-3,"c":0},
{"d":"2022-01-01","a":-6,"c":0},
{"d":"2022-01-16","a":-8,"c":0},
{"d":"2022-02-01","c":0},
{"d":"2022-02-16","c":0},
{"d":"2022-03-01","c":0},
{"d":"2022-03-16","c":0},
{"d":"2022-04-01","c":0},
{"d":"2022-04-16","c":0},
{"d":"2022-05-01","c":0},
{"d":"2022-05-16","c":0},
{"d":"2022-06-01","c":0},
{"d":"2022-06-16","c":0},
{"d":"2022-07-01","c":0},
{"d":"2022-07-16","c":0},
{"d":"2022-08-01","c":0},
{"d":"2022-08-16","c":0},
{"d":"2022-09-01","c":0},
{"d":"2022-09-16","c":0},
{"d":"2022-10-01","c":0},
{"d":"2022-10-16","c":0},
{"d":"2022-11-01","c":0},
{"d":"2022-11-16","c":0},
{"d":"2022-12-01","c":0},
{"d":"2022-12-16","c":0}
              ]},
              "transform": [{"fold": ["a", "b", "c"], "as": ["s", "v"]}],
              "mark": {"type": "point", "shape": "M-1,0H1M0,-1V1", "filled": false, "size": 140, "opacity": 1, "strokeWidth": 2.6},
              "encoding": {
                "x": {
                  "field": "d", "type": "temporal", "title": null,
                  "scale": {"type": "utc", "domain": [{"year": 1997, "month": 1, "date": 1, "utc": true}, {"year": 2023, "month": 1, "date": 1, "utc": true}]},
                  "axis": {
                    "format": "%d/%m/%Y",
                    "values": [
                      {"year": 1997, "month": 1, "date": 1, "utc": true},
                      {"year": 1999, "month": 1, "date": 1, "utc": true},
                      {"year": 2001, "month": 1, "date": 1, "utc": true},
                      {"year": 2003, "month": 1, "date": 1, "utc": true},
                      {"year": 2005, "month": 1, "date": 1, "utc": true},
                      {"year": 2007, "month": 1, "date": 1, "utc": true},
                      {"year": 2009, "month": 1, "date": 1, "utc": true},
                      {"year": 2011, "month": 1, "date": 1, "utc": true},
                      {"year": 2013, "month": 1, "date": 1, "utc": true},
                      {"year": 2015, "month": 1, "date": 1, "utc": true},
                      {"year": 2017, "month": 1, "date": 1, "utc": true},
                      {"year": 2019, "month": 1, "date": 1, "utc": true},
                      {"year": 2021, "month": 1, "date": 1, "utc": true}
                    ]
                  }
                },
                "y": {
                  "field": "v", "type": "quantitative", "title": null,
                  "scale": {"domain": [-60, 100], "nice": false, "zero": false},
                  "axis": {
                    "values": [100, 80, 60, 40, 20, 0, -20, -40, -60],
                    "labelExpr": "datum.value < 0 ? '- ' + (-datum.value) + '%' : datum.value + '%'"
                  }
                },
                "color": {
                  "field": "s", "type": "nominal",
                  "scale": {"domain": ["a", "b", "c"], "range": ["#FFC000", "#0070C0", "#FF0000"]},
                  "legend": {
                    "title": null, "orient": "none", "legendX": 1694, "legendY": 204,
                    "padding": 0, "rowPadding": 54, "labelLimit": 500,
                    "symbolType": "M-1,0H1M0,-1V1", "symbolSize": 64, "symbolStrokeWidth": 2,
                    "labelOffset": 2,
                    "labelExpr": "datum.label == 'a' ? 'Rendement_A04' : datum.label == 'b' ? 'Rendement_A07' : 'Rendement_A10'",
                    "labelFont": "Lato",
                    "labelFontSize": 28, "labelColor": "#595959"
                  }
                }
              }
            }
          ]
        }
      ],
      "spacing": 0,
      "bounds": "flush"
    }
  ]
}
